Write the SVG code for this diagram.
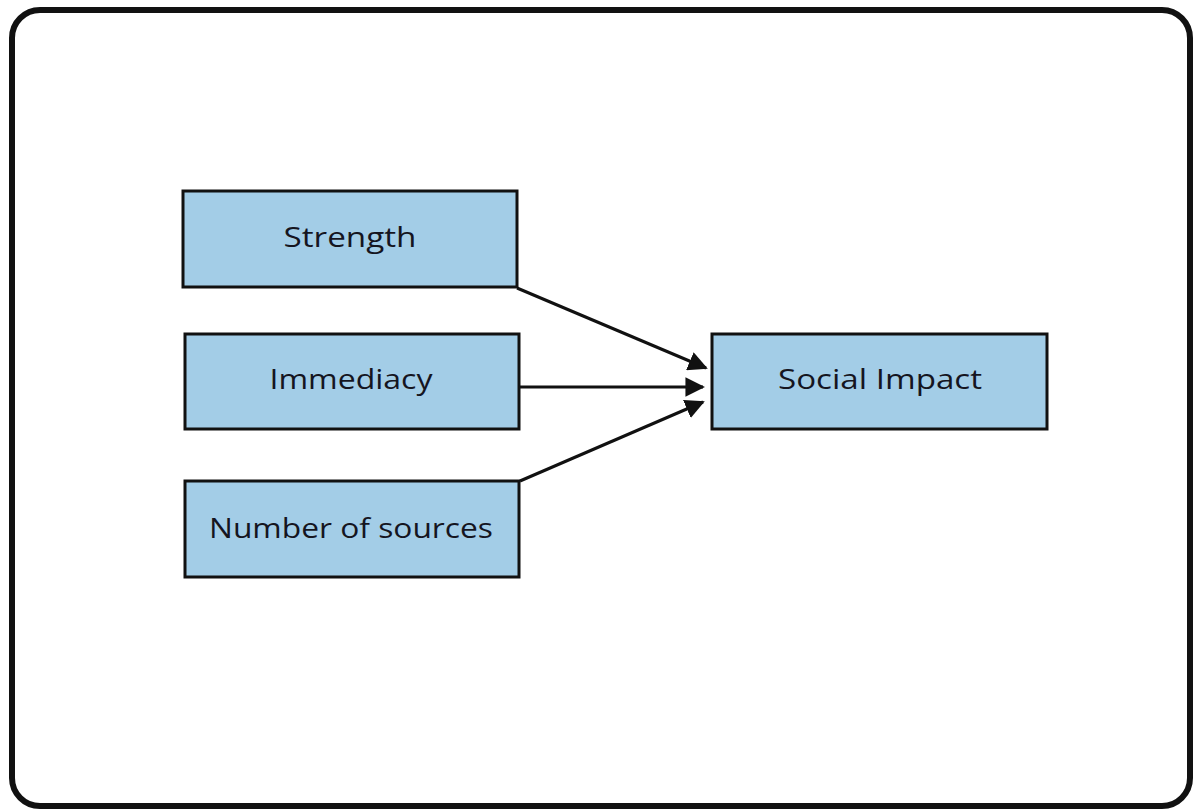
<svg xmlns="http://www.w3.org/2000/svg" width="1195" height="812" viewBox="0 0 1195 812">
<style>
.box{fill:#a3cde7;stroke:#111;stroke-width:3}
.lbl{font-family:"Open Sans","Lato",sans-serif;font-size:28px;fill:#15151f;text-anchor:middle;dominant-baseline:central}
.edge{stroke:#111;stroke-width:3;fill:none}
</style>
<defs>
<marker id="ah" viewBox="0 0 10 10" refX="9" refY="5" markerWidth="6.5" markerHeight="6.5" markerUnits="strokeWidth" orient="auto">
<path d="M0,0 L10,5 L0,10 Z" fill="#111"/>
</marker>
</defs>
<rect x="0" y="0" width="1195" height="812" fill="#fff"/>
<rect x="12" y="10" width="1178" height="796" rx="28" ry="28" fill="#fff" stroke="#111" stroke-width="6"/>
<g id="strength"><rect class="box" x="183" y="191" width="334" height="96"/><text class="lbl" x="350" y="236" textLength="133" lengthAdjust="spacingAndGlyphs">Strength</text></g>
<g id="immediacy"><rect class="box" x="185" y="334" width="334" height="95"/><text class="lbl" x="351" y="378" textLength="163" lengthAdjust="spacingAndGlyphs">Immediacy</text></g>
<g id="sources"><rect class="box" x="185" y="481" width="334" height="96"/><text class="lbl" x="351" y="527" textLength="284" lengthAdjust="spacingAndGlyphs">Number of sources</text></g>
<g id="social"><rect class="box" x="712" y="334" width="335" height="95"/><text class="lbl" x="880" y="378" textLength="204" lengthAdjust="spacingAndGlyphs">Social Impact</text></g>
<g id="connectors">
<line class="edge" x1="517" y1="288" x2="706" y2="368" marker-end="url(#ah)"/>
<line class="edge" x1="520" y1="387" x2="703" y2="387" marker-end="url(#ah)"/>
<line class="edge" x1="520" y1="481" x2="703" y2="402" marker-end="url(#ah)"/>
</g>
</svg>
